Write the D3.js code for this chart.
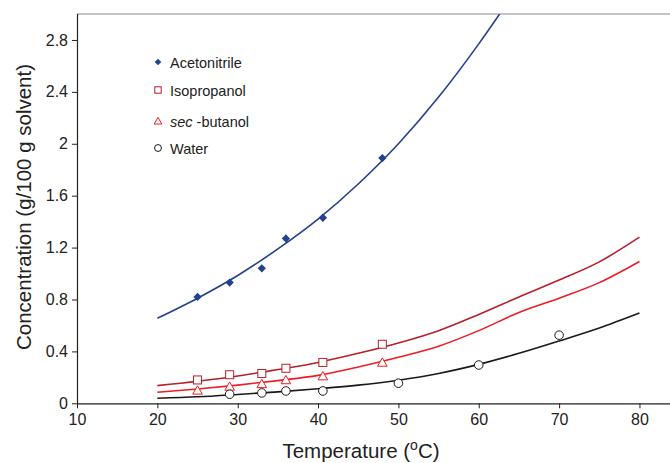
<!DOCTYPE html>
<html>
<head>
<meta charset="utf-8">
<script src="https://cdn.jsdelivr.net/npm/d3@7"></script>
<style>
  body { margin: 0; background: #fff; }
  text { font-family: Arial, "Liberation Sans", sans-serif; fill: #222; }
</style>
</head>
<body>
<script>
// measured points (temperature, concentration)
let acnT = [25, 29, 33, 36, 40.6, 48];
let acnC = [0.82, 0.93, 1.04, 1.27, 1.43, 1.89];
let ipaT = [25, 29, 33, 36, 40.6, 48];
let ipaC = [0.18, 0.22, 0.23, 0.27, 0.315, 0.455];
let sbuT = [25, 29, 33, 36, 40.6, 48];
let sbuC = [0.1, 0.13, 0.15, 0.18, 0.21, 0.315];
let watT = [29, 33, 36, 40.6, 50, 60, 70];
let watC = [0.07, 0.08, 0.095, 0.095, 0.155, 0.295, 0.525];

// fitted curves
let acnFitT = [20, 25, 30, 35, 40, 45, 50, 55, 60, 62.6];
let acnFitC = [0.655, 0.81, 0.985, 1.19, 1.42, 1.69, 2.0, 2.36, 2.77, 3.0];
let fitT = [20, 25, 30, 35, 40, 45, 50, 55, 60, 65, 70, 75, 80];
let ipaFitC = [0.136, 0.17, 0.21, 0.26, 0.315, 0.385, 0.465, 0.56, 0.685, 0.82, 0.95, 1.09, 1.28];
let sbuFitC = [0.085, 0.11, 0.14, 0.175, 0.215, 0.28, 0.355, 0.44, 0.56, 0.7, 0.81, 0.93, 1.093];
let watFitC = [0.039, 0.05, 0.068, 0.088, 0.112, 0.14, 0.178, 0.23, 0.3, 0.385, 0.48, 0.58, 0.695];

let xTicks = [10, 20, 30, 40, 50, 60, 70, 80];
let yTicks = [0, 0.4, 0.8, 1.2, 1.6, 2, 2.4, 2.8];

let width = 670;
let height = 463;

let x = d3.scaleLinear().domain([10, 83.8]).range([77, 670]);
let y = d3.scaleLinear().domain([0, 3]).range([403.3, 14]);

let svg = d3.select('body')
    .append('svg')
    .attr('width', width)
    .attr('height', height);

let series = [
  {name: 'Acetonitrile', color: '#24408e', T: acnT, C: acnC, fitT: acnFitT, fitC: acnFitC, sym: 'diamond'},
  {name: 'Isopropanol', color: '#b5202a', T: ipaT, C: ipaC, fitT: fitT, fitC: ipaFitC, sym: 'square'},
  {name: 'sec-butanol', color: '#ee1c25', T: sbuT, C: sbuC, fitT: fitT, fitC: sbuFitC, sym: 'triangle'},
  {name: 'Water', color: '#1a1a1a', T: watT, C: watC, fitT: fitT, fitC: watFitC, sym: 'circle'}
];

// top frame line
svg.append('line')
    .attr('x1', x(10)).attr('x2', width)
    .attr('y1', y(3)).attr('y2', y(3))
    .attr('stroke', '#c4c4c4').attr('stroke-width', 2);

let plot = svg.append('g');
plot.append('clipPath').attr('id', 'clip')
  .append('rect').attr('x', x(10)).attr('y', y(3))
    .attr('width', width - x(10)).attr('height', y(0) - y(3));

let line = d3.line().curve(d3.curveMonotoneX).x(d => x(d[0])).y(d => y(d[1]));

series.forEach(s => {
  plot.append('path')
      .datum(s.fitT.map((t, i) => [t, s.fitC[i]]))
      .attr('d', line)
      .attr('clip-path', 'url(#clip)')
      .attr('fill', 'none')
      .attr('stroke', s.color)
      .attr('stroke-width', 1.6);
});

function marker(g, s, k) {
  if (s.sym === 'diamond') {
    g.append('path').attr('d', d3.symbol(d3.symbolDiamond2, 44 * k * k)())
      .attr('fill', s.color);
  } else if (s.sym === 'square') {
    g.append('rect').attr('x', -4 * k).attr('y', -4 * k).attr('width', 8 * k).attr('height', 8 * k)
      .attr('fill', '#fff').attr('stroke', s.color).attr('stroke-width', 1);
  } else if (s.sym === 'triangle') {
    g.append('path').attr('d', `M0,${-4.5 * k}L${4.8 * k},${3.8 * k}L${-4.8 * k},${3.8 * k}Z`)
      .attr('fill', '#fff').attr('stroke', s.color).attr('stroke-width', 1);
  } else {
    g.append('circle').attr('r', 4.3 * k)
      .attr('fill', '#fff').attr('stroke', s.color).attr('stroke-width', 1);
  }
}

series.forEach(s => {
  s.T.forEach((t, i) => {
    let g = plot.append('g').attr('transform', `translate(${x(t)},${y(s.C[i])})`);
    marker(g, s, 1);
  });
});

// axes
let xAxis = svg.append('g')
    .attr('transform', `translate(0,${y(0)})`)
    .call(d3.axisBottom(x).tickValues(xTicks).tickSize(5).tickPadding(5).tickFormat(d3.format('d')));
xAxis.select('.domain').attr('d', `M${x(10)},0.5H${width}`);

let yAxis = svg.append('g')
    .attr('transform', `translate(${x(10)},0)`)
    .call(d3.axisLeft(y).tickValues(yTicks).tickSize(5).tickPadding(4).tickFormat(d => d3.format('')(d)));
yAxis.select('.domain').attr('d', `M0.5,${y(0)}V${y(3)}`);

svg.selectAll('.domain').attr('stroke', '#222').attr('stroke-width', 1.2);
svg.selectAll('.tick line').attr('stroke', '#222');
svg.selectAll('.tick text').style('font-size', '16px').attr('fill', '#222');

// axis titles
svg.append('text')
    .attr('x', 361).attr('y', 458)
    .attr('text-anchor', 'middle')
    .style('font-size', '20.5px')
    .html('Temperature (<tspan dy="-8" font-size="14px">o</tspan><tspan dy="8">C)</tspan>');

svg.append('text')
    .attr('transform', 'translate(31,207) rotate(-90)')
    .attr('text-anchor', 'middle')
    .style('font-size', '20.5px')
    .text('Concentration (g/100 g solvent)');

// legend
let legendY = [62, 90, 121, 148];
series.forEach((s, i) => {
  let g = svg.append('g').attr('transform', `translate(158,${legendY[i]})`);
  marker(g, s, 0.8);
  let t = g.append('text').attr('x', 12).attr('y', 5.5).style('font-size', '14.5px');
  if (s.name === 'sec-butanol') {
    t.append('tspan').attr('font-style', 'italic').text('sec');
    t.append('tspan').text(' -butanol');
  } else {
    t.text(s.name);
  }
});
</script>
</body>
</html>
